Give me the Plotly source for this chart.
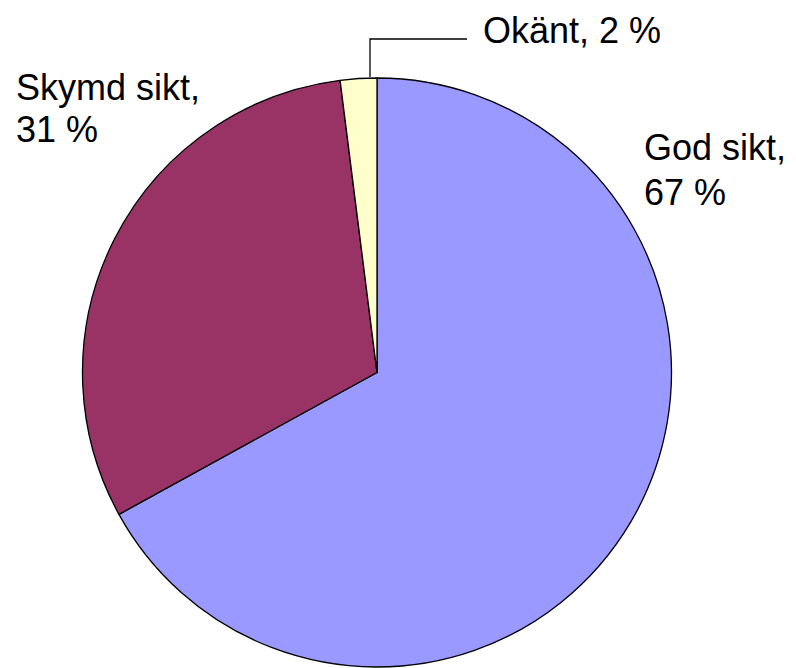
import plotly.graph_objects as go

labels = ["God sikt", "Skymd sikt", "Okänt"]
values = [67, 31, 2]
colors = ["#9999FF", "#993366", "#FFFFCC"]

W, H = 796, 668
OFF = 8  # page body margin offset in the browser

def px(x):
    return (x - OFF) / W

def py(y):
    return 1 - (y - OFF) / H

fig = go.Figure(go.Pie(
    labels=labels,
    values=values,
    sort=False,
    direction="clockwise",
    rotation=0,
    marker=dict(colors=colors, line=dict(color="black", width=1.3)),
    textinfo="none",
    hoverinfo="label+percent",
    domain=dict(x=[px(82), px(672)], y=[py(667), py(78)]),
    showlegend=False,
))

font = dict(family="Liberation Sans, Arial, sans-serif", size=36, color="black")

# (line text, left px, top px)
lines = [
    (f"{labels[2]}, {values[2]} %", 481, 8),
    (f"{labels[1]},", 14, 65),
    (f"{values[1]} %", 14, 107),
    (f"{labels[0]},", 642, 125),
    (f"{values[0]} %", 642, 170),
]
for text, x, y in lines:
    fig.add_annotation(x=px(x), y=py(y), xref="paper", yref="paper",
                       xanchor="left", yanchor="top", align="left",
                       text=text, showarrow=False, font=font)

fig.add_shape(type="path", xref="paper", yref="paper",
              path=f"M {px(370)} {py(77)} L {px(370)} {py(39)} L {px(467)} {py(39)}",
              line=dict(color="black", width=1.3))

fig.update_layout(width=W, height=H, margin=dict(l=0, r=0, t=0, b=0),
                  paper_bgcolor="white", plot_bgcolor="white")

fig.write_html("out.html")
